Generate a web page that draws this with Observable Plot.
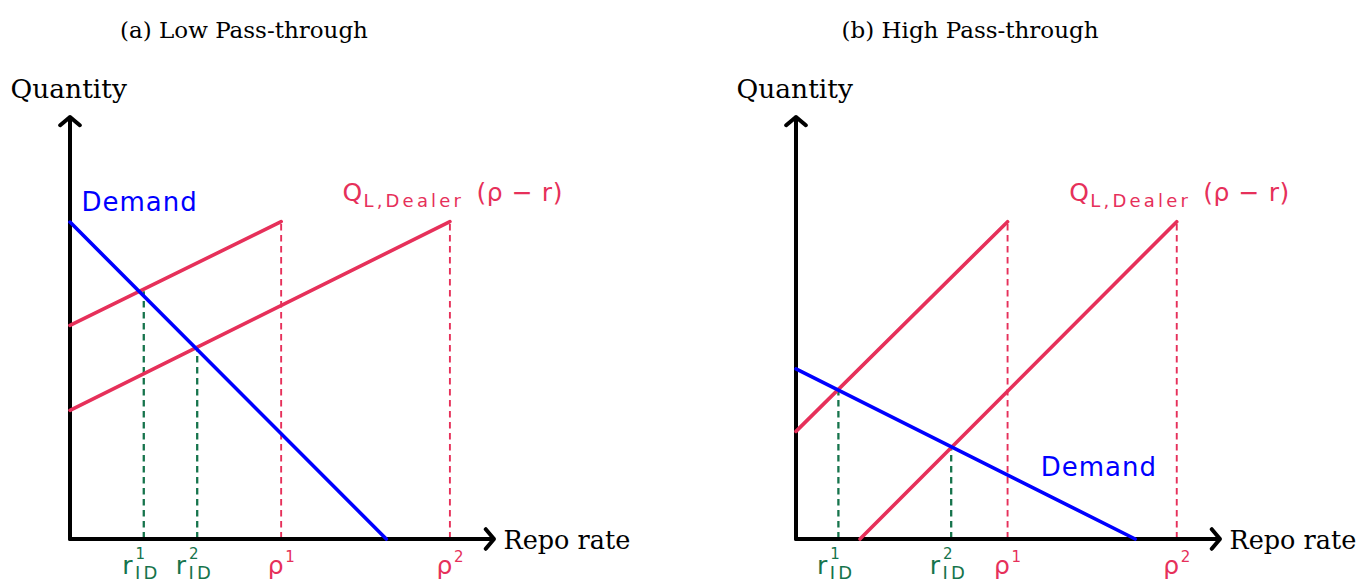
<!DOCTYPE html>
<html><head><meta charset="utf-8">
<script src="https://cdn.jsdelivr.net/npm/d3@7"></script>
<script src="https://cdn.jsdelivr.net/npm/@observablehq/plot@0.6"></script>
<style>
html,body{margin:0;padding:0;background:#fff;overflow:hidden}
#wrap{display:flex;width:1358px;height:583px}
#wrap svg{overflow:visible}
g[font-family="DejaVu Sans"][font-size="26"]{letter-spacing:1px}
g[font-family="DejaVu Sans"][font-size="18"]{letter-spacing:3.2px}
g[font-family="DejaVu Sans"][font-size="25"]{letter-spacing:0.6px}
</style></head><body><div id="wrap"></div>
<script>
// ---------- data ----------
const panelTitles = ["(a) Low Pass-through", "(b) High Pass-through"];
const yLabel = "Quantity";
const xLabel = "Repo rate";
const demandLabel = "Demand";
const supplyLabel = ["Q", "L,Dealer", "(ρ − r)"];
const rateSymbol = "r";
const rhoSymbol = "ρ";
const rateSub = "ID";
const tickSup = ["1", "2"];
const axisMax = 10;

// (a) Low pass-through
const demandA  = [{x: 0, y: 7.51}, {x: 7.46, y: 0}];
const supplyA1 = [{x: 0, y: 5.06}, {x: 4.98, y: 7.52}];
const supplyA2 = [{x: 0, y: 3.05}, {x: 8.96, y: 7.52}];
const rhoA = [4.98, 8.96];
const rateA = [1.74, 3.0];
const qtyA = [5.86, 4.54];

// (b) High pass-through
const demandB  = [{x: 0, y: 4.03}, {x: 8.0, y: 0}];
const supplyB1 = [{x: 0, y: 2.55}, {x: 4.99, y: 7.52}];
const supplyB2 = [{x: 1.51, y: 0}, {x: 8.98, y: 7.52}];
const rhoB = [4.99, 8.98];
const rateB = [1.0, 3.66];
const qtyB = [3.54, 2.20];
const qtyMax = 7.52;

// ---------- styles ----------
const RED = "#e6305a", BLUE = "#0000ff", GREEN = "#16744c";
const SERIF = "DejaVu Serif", MATH = "DejaVu Sans";

function panel(cfg) {
  const {title, demand, s1, s2, rho, rate, qty, width, marginRight, demandAnchor, demandDx, demandDy} = cfg;
  const axes = [
    {x1: 0, y1: 0, x2: 0, y2: axisMax},
    {x1: 0, y1: 0, x2: axisMax, y2: 0}
  ];
  const supEnd = [s2[s2.length - 1]];
  return Plot.plot({
    width, height: 583,
    marginLeft: 69.5, marginRight, marginTop: 116.5, marginBottom: 44.5,
    x: {domain: [0, axisMax], axis: null},
    y: {domain: [0, axisMax], axis: null},
    style: {background: "white", overflow: "visible"},
    marks: [
      // dashed guides
      Plot.ruleX(rho, {x: d => d, y1: 0, y2: qtyMax, stroke: RED, strokeWidth: 1.9, strokeDasharray: "6.5,4.5"}),
      Plot.ruleX(rate, {x: d => d, y1: 0, y2: (d, i) => qty[i], stroke: GREEN, strokeWidth: 2.3, strokeDasharray: "6.5,4.5"}),
      // axes
      Plot.arrow(axes, {x1: "x1", y1: "y1", x2: "x2", y2: "y2", stroke: "black", strokeWidth: 4, headAngle: 100, headLength: 4.8}),
      // curves
      Plot.line(s1, {x: "x", y: "y", stroke: RED, strokeWidth: 3.6}),
      Plot.line(s2, {x: "x", y: "y", stroke: RED, strokeWidth: 3.6}),
      Plot.line(demand, {x: "x", y: "y", stroke: BLUE, strokeWidth: 3.6}),
      // titles / axis labels
      Plot.text([title], {frameAnchor: "top-left", dx: 174, dy: -79, textAnchor: "middle", lineAnchor: "bottom", fontFamily: SERIF, fontSize: 23, fill: "black"}),
      Plot.text([yLabel], {frameAnchor: "top-left", dx: -59.5, dy: -19.5, textAnchor: "start", lineAnchor: "bottom", fontFamily: SERIF, fontSize: 26.5, fill: "black"}),
      Plot.text([xLabel], {frameAnchor: "bottom-right", dx: 9.5, dy: 9.5, textAnchor: "start", lineAnchor: "bottom", fontFamily: SERIF, fontSize: 25.5, fill: "black"}),
      // curve labels
      Plot.text([demandAnchor], {x: "x", y: "y", text: () => demandLabel, dx: demandDx, dy: demandDy, textAnchor: "start", lineAnchor: "bottom", fontFamily: MATH, fontSize: 26, fill: BLUE}),
      Plot.text(supEnd, {x: "x", y: "y", text: () => supplyLabel[0], dx: -107.5, dy: -21, textAnchor: "start", lineAnchor: "bottom", fontFamily: MATH, fontSize: 25, fill: RED}),
      Plot.text(supEnd, {x: "x", y: "y", text: () => supplyLabel[1], dx: -86.5, dy: -15, textAnchor: "start", lineAnchor: "bottom", fontFamily: MATH, fontSize: 18, fill: RED}),
      Plot.text(supEnd, {x: "x", y: "y", text: () => supplyLabel[2], dx: 26.5, dy: -21, textAnchor: "start", lineAnchor: "bottom", fontFamily: MATH, fontSize: 25, fill: RED}),
      // tick labels: r^k_ID
      Plot.text(rate, {x: d => d, y: 0, text: () => rateSymbol, dx: -21.5, dy: 34.5, textAnchor: "start", lineAnchor: "bottom", fontFamily: MATH, fontSize: 25, fill: GREEN}),
      Plot.text(rate, {x: d => d, y: 0, text: (d, i) => tickSup[i], dx: -8.2, dy: 20, textAnchor: "start", lineAnchor: "bottom", fontFamily: MATH, fontSize: 15, fill: GREEN}),
      Plot.text(rate, {x: d => d, y: 0, text: () => rateSub, dx: -8.7, dy: 40, textAnchor: "start", lineAnchor: "bottom", fontFamily: MATH, fontSize: 18, fill: GREEN}),
      // tick labels: rho^k
      Plot.text(rho, {x: d => d, y: 0, text: () => rhoSymbol, dx: -13.5, dy: 34.5, textAnchor: "start", lineAnchor: "bottom", fontFamily: MATH, fontSize: 25, fill: RED}),
      Plot.text(rho, {x: d => d, y: 0, text: (d, i) => tickSup[i], dx: 4, dy: 22.5, textAnchor: "start", lineAnchor: "bottom", fontFamily: MATH, fontSize: 15, fill: RED})
    ]
  });
}

const wrap = document.getElementById("wrap");
wrap.appendChild(panel({
  title: panelTitles[0], demand: demandA, s1: supplyA1, s2: supplyA2, rho: rhoA, rate: rateA, qty: qtyA,
  width: 726, marginRight: 232.5, demandAnchor: demandA[0], demandDx: 11.5, demandDy: -10.7
}));
wrap.appendChild(panel({
  title: panelTitles[1], demand: demandB, s1: supplyB1, s2: supplyB2, rho: rhoB, rate: rateB, qty: qtyB,
  width: 632, marginRight: 138.5, demandAnchor: demandB[demandB.length - 1], demandDx: -94.5, demandDy: -63.5
}));
</script></body></html>
